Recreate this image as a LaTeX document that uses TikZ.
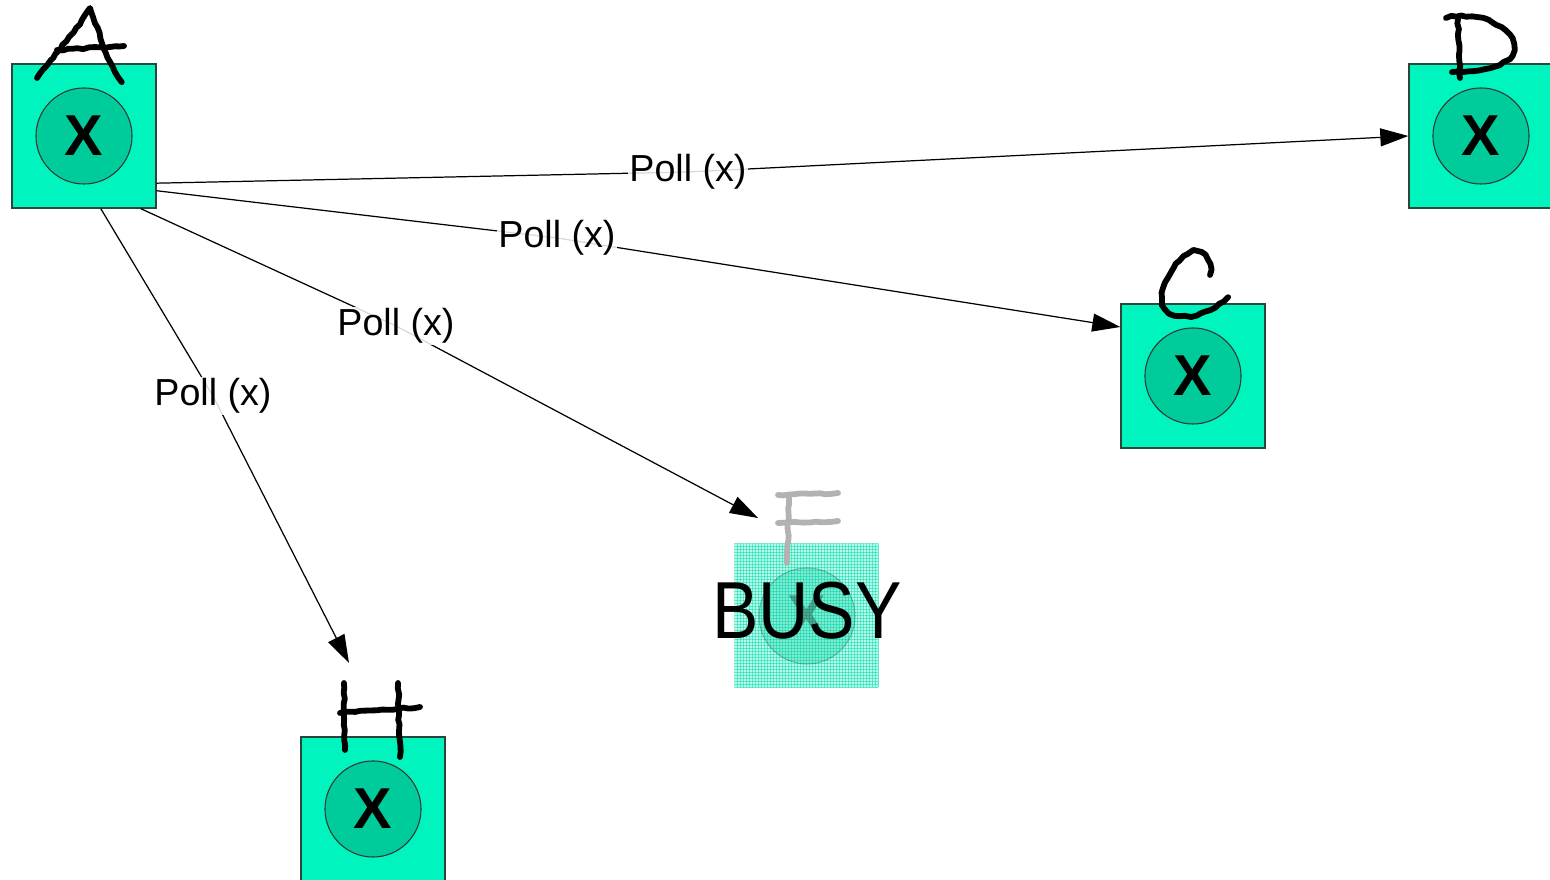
\documentclass[tikz,border=0pt]{standalone}
\usepackage{fontspec}
\setmainfont{Liberation Sans}
\usetikzlibrary{arrows.meta,calc,decorations.pathmorphing}
\definecolor{boxc}{RGB}{0,245,190}
\definecolor{discc}{RGB}{0,204,155}
\definecolor{edgec}{RGB}{40,70,60}
\tikzset{
  proc/.style={draw=edgec, line width=0.35pt, fill=boxc, minimum width=1.44cm,
    minimum height=1.44cm, inner sep=0pt},
  disc/.style={circle, draw=black!80, line width=0.3pt, fill=discc,
    minimum size=0.96cm, inner sep=0pt, font=\bfseries\fontsize{16.4}{18}\selectfont},
  msg/.style={-{Triangle[length=0.28cm,width=0.18cm]}, line width=0.35pt, line join=round},
  polllabel/.style={fill=white, fill opacity=0.85, text opacity=1, inner sep=0.5pt,
    font=\fontsize{10.7}{12}\selectfont},
  ink/.style={line width=1.65pt, line cap=round, line join=round, decorate,
    decoration={random steps, segment length=1.5pt, amplitude=0.25pt}},
  faintink/.style={ink, draw=black!30, dash pattern=on 0.5pt off 0.2pt},
}
\begin{document}
\begin{tikzpicture}[x=0.01cm, y=-0.01cm]
\useasboundingbox (0,0) rectangle (1550,880);

% processes
\node[proc] (A) at (84,136) {};
\node[disc] (Ax) at (A.center) {X};
\node[proc] (D) at (1481,136) {};
\node[disc] (Dx) at (D.center) {X};
\node[proc] (C) at (1193,376) {};
\node[disc] (Cx) at (C.center) {X};
\node[proc] (H) at (373,809) {};
\node[disc] (Hx) at (H.center) {X};

% the busy process, washed out with a fine mesh
\node[proc, draw=none, fill=boxc!30!white] (F) at (807,616) {};
\begin{scope}
  \clip (F.south west) rectangle (F.north east);
  \foreach \i in {0,3,...,144} {
    \draw[boxc!85!black, line width=0.3pt, opacity=0.45] ($(F.north west)+(\i,0)$) -- ++(0,144);
    \draw[boxc!85!black, line width=0.3pt, opacity=0.45] ($(F.north west)+(0,\i)$) -- ++(144,0);
  }
\end{scope}
\node[disc, fill=discc, fill opacity=0.3, draw opacity=0.3, text opacity=0.3] (Fx) at (F.center) {X};

% process letters
\draw[ink] (37,78) .. controls (55,55) and (78,28) .. (90,8)
           .. controls (100,32) and (106,62) .. (122,82);
\draw[ink] (57,50) -- (124,46);
\draw[ink] (1458,19) -- (1460,78);
\draw[ink] (1446,18) .. controls (1480,10) and (1516,28) .. (1514,50)
           .. controls (1510,68) and (1472,72) .. (1452,72);
\draw[ink] (1210,275) .. controls (1213,262) and (1205,250) .. (1193,252)
           .. controls (1175,256) and (1158,290) .. (1163,305)
           .. controls (1170,322) and (1205,320) .. (1228,297);
\draw[ink] (344,683) -- (345,750);
\draw[ink] (398,683) -- (400,757);
\draw[ink] (340,713) -- (420,707);
\draw[faintink] (789,498) -- (787,563);
\draw[faintink] (778,495) -- (838,493);
\draw[faintink] (778,523) -- (838,521);

\node[font=\fontsize{23}{26}\selectfont, xscale=0.86, inner sep=0pt] (busy) at (807,611) {BUSY};

% polls
\coordinate (p1) at (688,172);
\coordinate (p2) at (557,238);
\coordinate (p3) at (396,326);
\coordinate (p4) at (213,396);
\coordinate (tF) at (758,518);
\coordinate (tH) at (349,663);
\draw[msg] (A.-33) -- (p1) -- (D.west);
\draw[msg] (A.-37) -- (p2) -- (C.146);
\draw[msg] (A.-52) -- (p3) -- (tF);
\draw[msg] (A.-77.5) -- (p4) -- (tH);
\node[polllabel] (l1) at (p1) {Poll (x)};
\node[polllabel] (l2) at (p2) {Poll (x)};
\node[polllabel] (l3) at (p3) {Poll (x)};
\node[polllabel] (l4) at (p4) {Poll (x)};
\end{tikzpicture}
\end{document}
